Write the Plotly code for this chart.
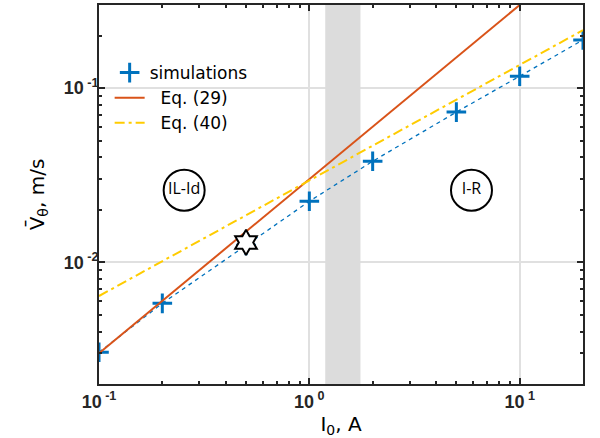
import plotly.graph_objects as go

# Data
sim_I = [0.1, 0.2, 0.5, 1, 2, 5, 10, 20]
sim_V = [0.00304, 0.00581, 0.0125, 0.0224, 0.038, 0.0728, 0.117, 0.189]
eq29_I = [0.1, 1, 10, 20]
eq29_V = [0.003, 0.030, 0.30, 0.60]
eq40_I = [0.1, 1, 20]
eq40_V = [0.0064, 0.0295, 0.215]
star_I = [0.5]
star_V = [0.0130]
band_I = [1.19, 1.75]
band_V = [0.0015, 0.4]
x_ticks = [0.1, 1, 10]
x_tick_text = ["<b>10</b><sup><b> -1</b></sup>", "<b>10</b><sup><b> 0</b></sup>", "<b>10</b><sup><b> 1</b></sup>"]
y_ticks = [0.01, 0.1]
y_tick_text = ["<b>10</b><sup><b> -2</b></sup>", "<b>10</b><sup><b> -1</b></sup>"]
x_minor = [m * d for d in [0.1, 1, 10] for m in range(2, 10)]
y_minor = [m * d for d in [0.001, 0.01, 0.1] for m in range(2, 10)]
ann_I = [0.254, 5.9]
ann_V = [0.0259, 0.0259]
ann_text = ["IL-Id", "I-R"]

BLUE = "#0072BD"
RED = "#D95319"
YELLOW = "#FFCC00"
NB = "\u00a0"

fig = go.Figure()

# gray band
fig.add_trace(go.Scatter(
    x=[band_I[0], band_I[1], band_I[1], band_I[0], band_I[0]],
    y=[band_V[0], band_V[0], band_V[1], band_V[1], band_V[0]],
    fill="toself", fillcolor="#dcdcdc", line=dict(width=0), mode="lines",
    showlegend=False, hoverinfo="skip"))

fig.add_trace(go.Scatter(x=sim_I, y=sim_V, mode="lines",
                         line=dict(color=BLUE, width=1.3, dash="4px,4px"),
                         showlegend=False))
fig.add_trace(go.Scatter(x=sim_I, y=sim_V, mode="markers", name="simulations",
                         marker=dict(symbol="cross-thin", size=14,
                                     line=dict(color=BLUE, width=3), color=BLUE)))
fig.add_trace(go.Scatter(x=eq29_I, y=eq29_V, mode="lines", name=NB * 2 + "Eq. (29)",
                         line=dict(color=RED, width=2)))
fig.add_trace(go.Scatter(x=eq40_I, y=eq40_V, mode="lines", name=NB * 2 + "Eq. (40)",
                         line=dict(color=YELLOW, width=2, dash="10px,4px,3px,4px")))
fig.add_trace(go.Scatter(x=star_I, y=star_V, mode="markers", showlegend=False,
                         marker=dict(symbol="hexagram", size=19, color="white",
                                     line=dict(color="black", width=2))))
# region labels in circles
fig.add_trace(go.Scatter(x=ann_I, y=ann_V, mode="markers+text", text=ann_text,
                         textposition="middle center", showlegend=False,
                         textfont=dict(family="Open Sans", size=16, color="black"),
                         marker=dict(symbol="circle-open", size=41,
                                     line=dict(color="black", width=2), color="black")))

axis_common = dict(
    type="log", showline=True, linecolor="#262626", linewidth=2, mirror="allticks",
    ticks="inside", ticklen=6, tickwidth=2, tickcolor="#262626",
    showgrid=True, gridcolor="#e0e0e0", gridwidth=2, zeroline=False, automargin=False,
    tickfont=dict(family="Liberation Sans", size=18, color="#262626"),
)

fig.update_xaxes(**axis_common, range=[-1, 1.301], tickmode="array",
                 tickvals=x_ticks, ticktext=x_tick_text,
                 minor=dict(ticks="inside", ticklen=3, tickwidth=2, tickcolor="#262626",
                            tickmode="array", tickvals=x_minor, showgrid=False),
                 title=dict(text="I<sub>0</sub>, A", standoff=2,
                            font=dict(family="DejaVu Sans", size=20, color="black")))
fig.update_yaxes(**axis_common, range=[-2.699, -0.523], tickmode="array",
                 tickvals=y_ticks, ticktext=y_tick_text, ticklabelstandoff=-5,
                 minor=dict(ticks="inside", ticklen=3, tickwidth=2, tickcolor="#262626",
                            tickmode="array", tickvals=y_minor, showgrid=False),
                 title=dict(text="V\u0304<sub>θ</sub>, m/s", standoff=14,
                            font=dict(family="DejaVu Sans", size=20, color="black")))

fig.update_layout(
    width=600, height=438, margin=dict(l=99, r=17, t=5, b=54),
    paper_bgcolor="white", plot_bgcolor="white",
    legend=dict(x=0.022, y=0.868, xanchor="left", yanchor="top", bgcolor="rgba(0,0,0,0)",
                font=dict(family="DejaVu Sans", size=17, color="black"),
                tracegroupgap=0, itemwidth=30),
)

fig.write_html("out.html", config={"displayModeBar": False},
               post_script="document.body.style.margin='0';")
